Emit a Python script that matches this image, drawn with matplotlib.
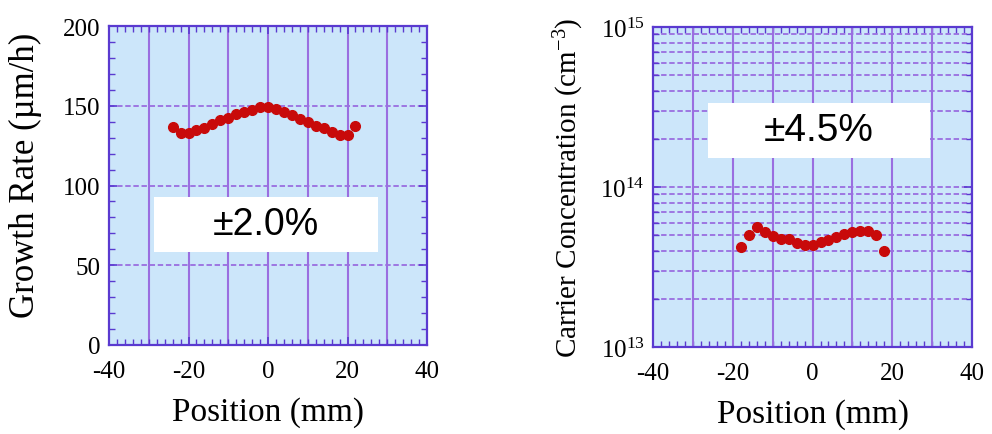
import matplotlib
matplotlib.use("Agg")
import matplotlib.pyplot as plt
from matplotlib.patches import Rectangle
from matplotlib.ticker import MultipleLocator, LogLocator, LogFormatterMathtext, NullFormatter

# === dados ===
pos_growth = [-24, -22, -20, -18, -16, -14, -12, -10, -8, -6, -4, -2,
              0, 2, 4, 6, 8, 10, 12, 14, 16, 18, 20, 22]
growth_rate = [136.7, 132.7, 133.0, 134.6, 135.9, 138.4, 141.1, 142.2, 144.7, 146.4, 147.5, 149.0,
               149.4, 147.9, 146.4, 144.3, 141.6, 139.9, 137.3, 135.9, 133.8, 131.6, 131.6, 137.3]

pos_carrier = [-18, -16, -14, -12, -10, -8, -6, -4, -2, 0, 2, 4, 6, 8, 10, 12, 14, 16, 18]
carrier = [4.2e13, 5.0e13, 5.6e13, 5.26e13, 4.92e13, 4.73e13, 4.73e13, 4.45e13, 4.36e13, 4.36e13,
           4.55e13, 4.67e13, 4.85e13, 5.08e13, 5.26e13, 5.33e13, 5.33e13, 5.0e13, 3.96e13]

uniform_growth = "±2.0%"
uniform_carrier = "±4.5%"

# === estilo ===
plt.rcParams["font.family"] = ["Liberation Serif", "DejaVu Serif"]
plt.rcParams["mathtext.fontset"] = "custom"
plt.rcParams["mathtext.rm"] = "Liberation Serif"
plt.rcParams["mathtext.it"] = "Liberation Serif:italic"
plt.rcParams["axes.unicode_minus"] = False

fundo = "#cce6fa"
borda = "#5a3ad0"
grade = "#9a6ee0"
ponto = "#c80a0a"

fig = plt.figure(figsize=(9.92, 4.35), dpi=100)
ax1 = fig.add_axes([0.1099, 0.2046, 0.3206, 0.7333])
ax2 = fig.add_axes([0.6583, 0.2000, 0.3216, 0.7356])


def estilo(ax):
    ax.set_facecolor(fundo)
    for s in ax.spines.values():
        s.set_color(borda)
        s.set_linewidth(1.6)
    ax.tick_params(which="both", direction="in", top=True, right=True,
                   color=borda, labelsize=18, pad=6)
    ax.tick_params(axis="x", which="major", pad=11)
    ax.tick_params(which="major", length=6, width=1.2)
    ax.tick_params(which="minor", length=4, width=1.0)
    ax.set_xlim(-40, 40)
    ax.xaxis.set_major_locator(MultipleLocator(20))
    ax.xaxis.set_minor_locator(MultipleLocator(2))
    # linhas verticais a cada 10
    for xv in range(-30, 40, 10):
        ax.axvline(xv, color=grade, lw=1.5, zorder=1)
    ax.set_xlabel("Position (mm)", fontsize=24, labelpad=10)


def caixa(ax, cx, cy, w, h, texto, tam):
    # caixa branca com o texto de uniformidade (coordenadas do eixo)
    ax.add_patch(Rectangle((cx - w / 2, cy - h / 2), w, h, transform=ax.transAxes,
                           facecolor="white", edgecolor="none", zorder=4))
    ax.text(cx, cy, texto, transform=ax.transAxes, ha="center", va="center",
            fontsize=tam, family=["Liberation Sans", "DejaVu Sans"], zorder=5)


# === 1. Taxa de crescimento ===
estilo(ax1)
ax1.set_ylim(0, 200)
ax1.yaxis.set_major_locator(MultipleLocator(50))
ax1.yaxis.set_minor_locator(MultipleLocator(10))
for yv in [50, 100, 150]:
    ax1.axhline(yv, color=grade, lw=1.3, ls=(0, (3, 1.5)), zorder=1)
ax1.plot(pos_growth, growth_rate, "o", color=ponto, ms=7, zorder=3)
ax1.set_ylabel("Growth Rate (µm/h)", fontsize=25)
ax1.yaxis.set_label_coords(-0.212, 0.535)
caixa(ax1, 0.494, 0.378, 0.704, 0.172, uniform_growth, 27)

# === 2. Concentração de portadores ===
estilo(ax2)
ax2.set_yscale("log")
ax2.set_ylim(1e13, 1e15)
ax2.yaxis.set_major_locator(LogLocator(base=10))
ax2.yaxis.set_major_formatter(LogFormatterMathtext())
ax2.yaxis.set_minor_locator(LogLocator(base=10, subs=range(2, 10)))
ax2.yaxis.set_minor_formatter(NullFormatter())
ax2.grid(True, axis="y", which="both", color=grade, lw=1.3, ls=(0, (3, 1.5)), zorder=1)
ax2.set_axisbelow(True)
ax2.plot(pos_carrier, carrier, "o", color=ponto, ms=7, zorder=3)
ax2.set_ylabel("Carrier Concentration (cm$^{-3}$)", fontsize=21, labelpad=10)
caixa(ax2, 0.52, 0.677, 0.696, 0.172, uniform_carrier, 28)

fig.savefig("out.png", dpi=100)
